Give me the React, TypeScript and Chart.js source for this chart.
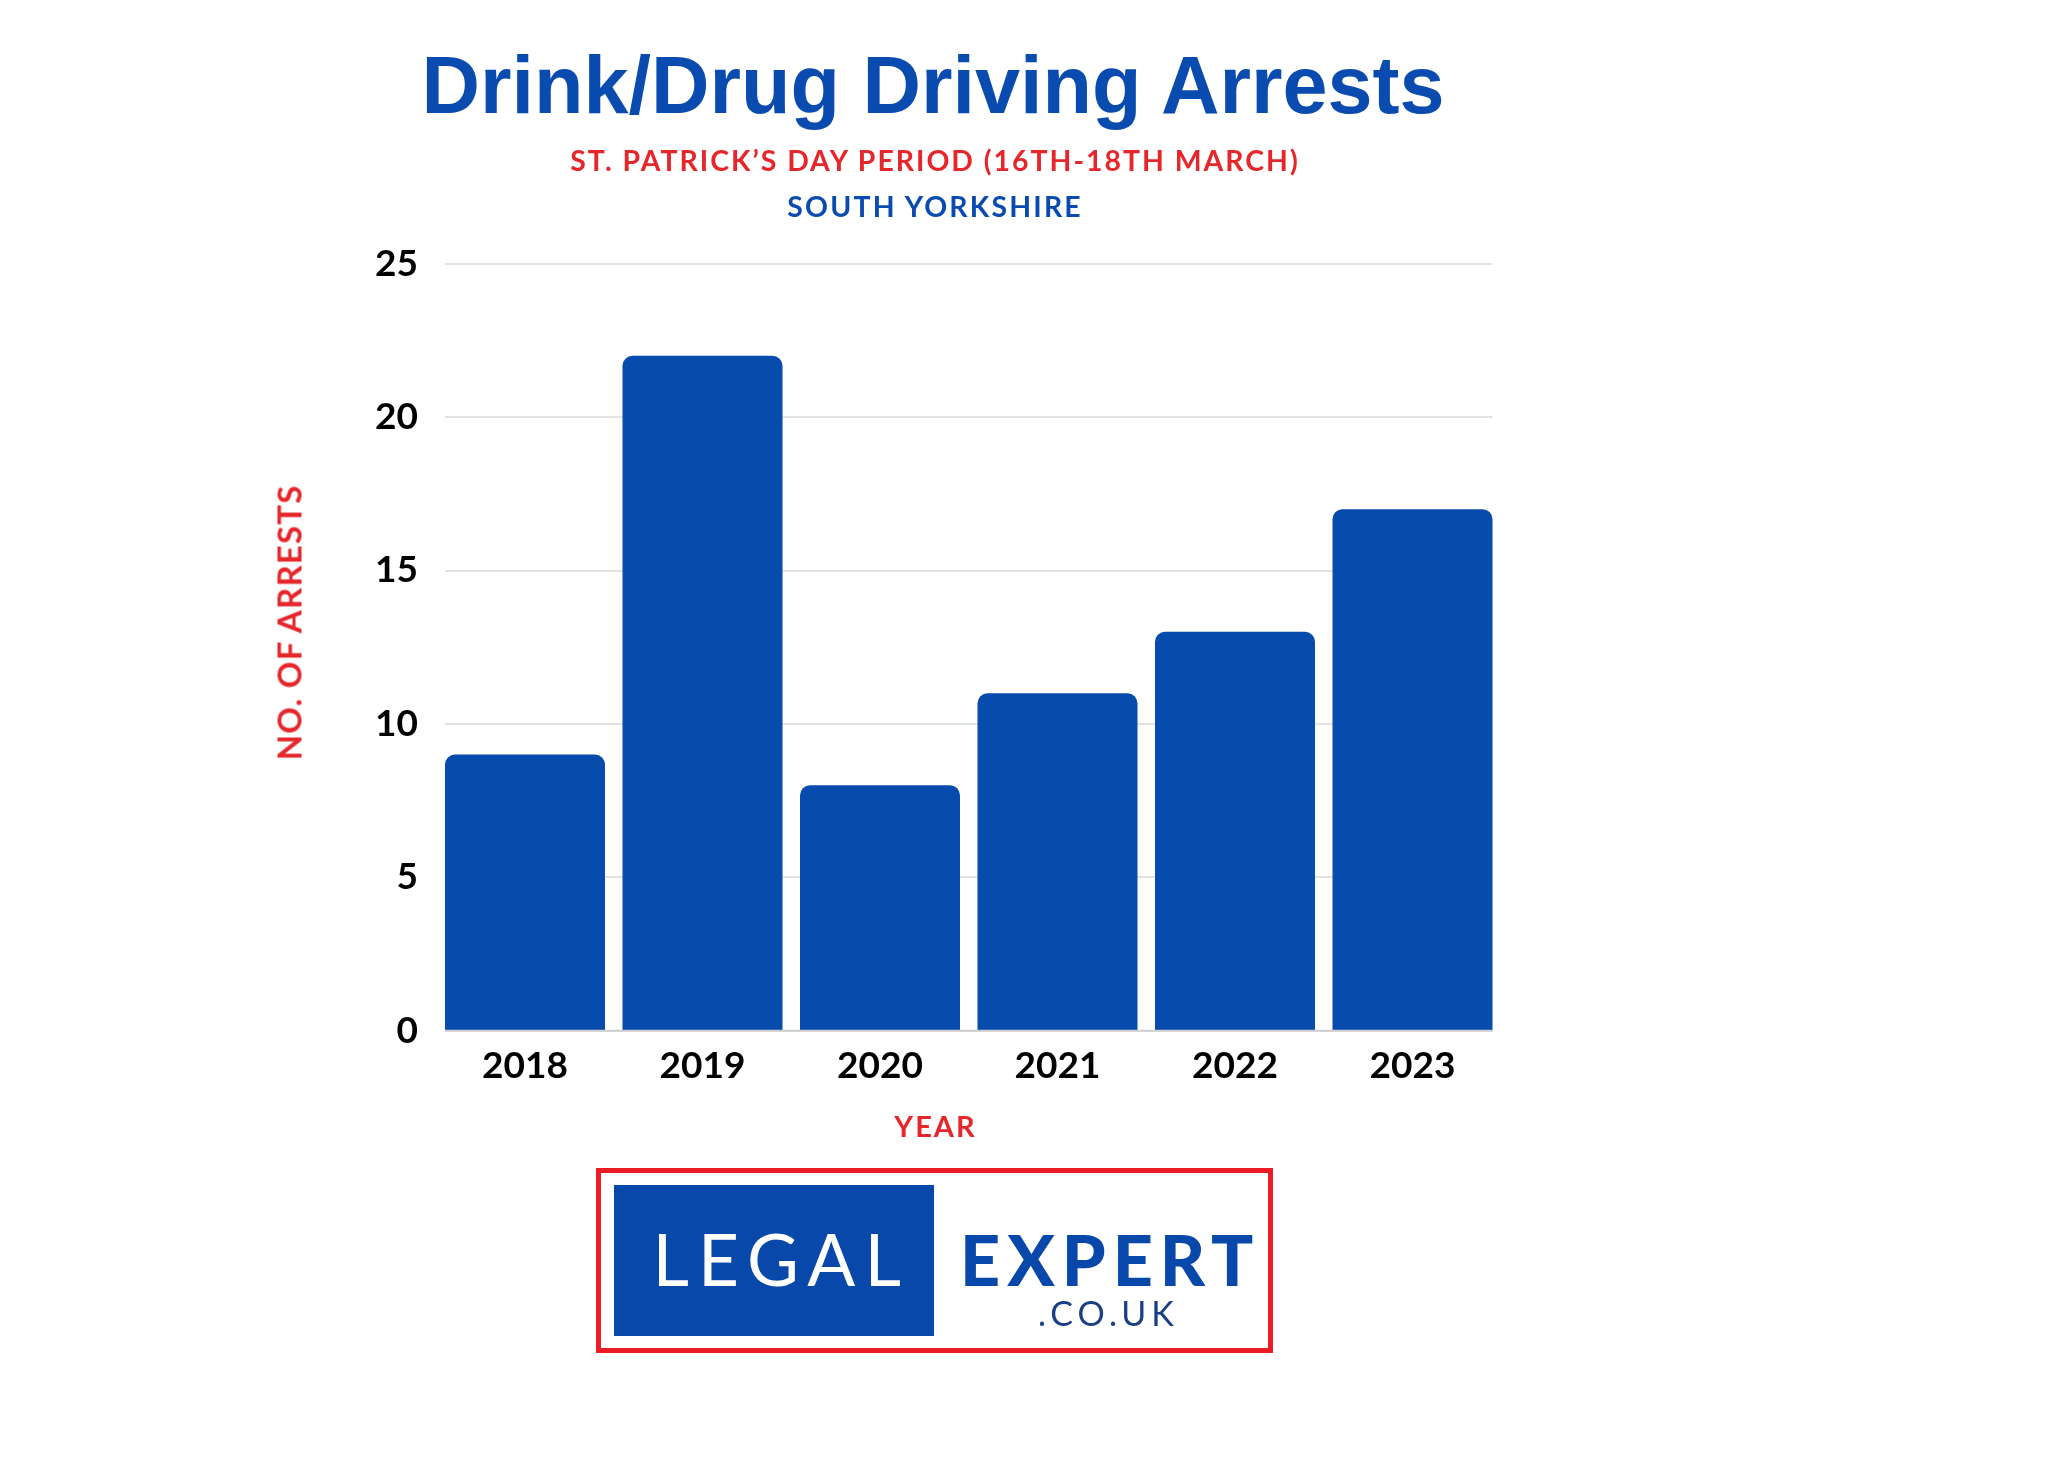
import React, { useEffect, useRef } from 'react';
import { Chart, registerables } from 'chart.js';

Chart.register(...registerables);

const years = ['2018', '2019', '2020', '2021', '2022', '2023'];
const arrests = [9, 22, 8, 11, 13, 17];
const yMin = 0;
const yMax = 25;
const yStep = 5;

const titleText = 'Drink/Drug Driving Arrests';
const subtitleText = 'ST. PATRICK\u2019S DAY PERIOD (16TH-18TH MARCH)';
const regionText = 'SOUTH YORKSHIRE';
const xTitleText = 'YEAR';
const yTitleText = 'NO. OF ARRESTS';

const BLUE = '#074BAC';
const RED = '#E5262A';
const W = 2048;
const H = 1457;

const barGrid = {
  id: 'barGrid',
  beforeDatasetsDraw(chart: any) {
    const meta = chart.getDatasetMeta(0);
    if (!meta.data.length) return;
    const first = meta.data[0];
    const last = meta.data[meta.data.length - 1];
    const x0 = first.x - first.width / 2;
    const x1 = last.x + last.width / 2;
    const ys = chart.scales.y;
    const ctx = chart.ctx;
    ctx.save();
    ctx.strokeStyle = '#e2e2e2';
    ctx.lineWidth = 2;
    ys.ticks.forEach((t: any) => {
      const y = Math.round(ys.getPixelForValue(t.value));
      ctx.beginPath();
      ctx.moveTo(x0, y);
      ctx.lineTo(x1, y);
      ctx.stroke();
    });
    ctx.restore();
  },
  afterDatasetsDraw(chart: any) {
    const meta = chart.getDatasetMeta(0);
    if (!meta.data.length) return;
    const first = meta.data[0];
    const last = meta.data[meta.data.length - 1];
    const x0 = first.x - first.width / 2;
    const x1 = last.x + last.width / 2;
    const ys = chart.scales.y;
    const ctx = chart.ctx;
    const y = ys.getPixelForValue(yMin);
    ctx.save();
    ctx.strokeStyle = '#cfcfcf';
    ctx.lineWidth = 2;
    ctx.beginPath();
    ctx.moveTo(x0, y);
    ctx.lineTo(x1, y);
    ctx.stroke();
    ctx.restore();
  },
};

function Text(props: {
  text: string;
  cx: number;
  top: number;
  size: number;
  family: string;
  weight: number | string;
  color: string;
  spacing?: number;
}) {
  const sp = props.spacing || 0;
  return (
    <div
      style={{
        position: 'absolute',
        left: props.cx - 700,
        width: 1400,
        top: props.top,
        textAlign: 'center',
        fontFamily: props.family,
        fontWeight: props.weight as any,
        fontSize: props.size,
        lineHeight: `${props.size}px`,
        color: props.color,
        letterSpacing: sp,
        paddingLeft: sp,
        boxSizing: 'border-box',
        whiteSpace: 'nowrap',
        pointerEvents: 'none',
      }}
    >
      {props.text}
    </div>
  );
}

export default function App() {
  const canvasRef = useRef<HTMLCanvasElement | null>(null);

  useEffect(() => {
    if (!canvasRef.current) return;
    const tickFont = { family: 'Lato', weight: 'bold' as const, size: 37 };
    const chart = new Chart(canvasRef.current, {
      type: 'bar',
      data: {
        labels: years,
        datasets: [
          {
            data: arrests,
            backgroundColor: BLUE,
            borderRadius: 10,
            borderSkipped: 'start',
            barPercentage: 0.9014,
            categoryPercentage: 1,
          },
        ],
      },
      options: {
        responsive: false,
        animation: false,
        devicePixelRatio: 1,
        layout: {
          padding: { left: 336.25, right: 546.75, top: 263.7, bottom: 346.3 },
        },
        plugins: {
          legend: { display: false },
          tooltip: { enabled: false },
          title: { display: false },
        },
        scales: {
          x: {
            grid: { display: false, drawTicks: false },
            border: { display: false },
            ticks: { font: tickFont, color: '#000', padding: 13.5, maxRotation: 0 },
            afterFit: (s: any) => {
              s.height = 80;
            },
          },
          y: {
            min: yMin,
            max: yMax,
            grid: { display: false, drawTicks: false },
            border: { display: false },
            ticks: { stepSize: yStep, font: tickFont, color: '#000', padding: 18.25 },
            afterFit: (s: any) => {
              s.width = 100;
            },
          },
        },
      },
      plugins: [barGrid],
    });
    return () => chart.destroy();
  }, []);

  return (
    <div
      style={{
        position: 'absolute',
        left: 0,
        top: 0,
        width: W,
        height: H,
        background: '#fff',
        overflow: 'hidden',
      }}
    >
      <canvas
        ref={canvasRef}
        width={W}
        height={H}
        style={{ position: 'absolute', left: 0, top: 0, width: W, height: H, display: 'block' }}
      />
      <Text text={titleText} cx={933} top={44.7} size={81} family={'"Liberation Sans", Arial, sans-serif'} weight={700} color={'#0A4BB0'} />
      <Text text={subtitleText} cx={934} top={145.8} size={28.4} family={'Lato, sans-serif'} weight={700} color={RED} spacing={2.0} />
      <Text text={regionText} cx={934} top={192.1} size={28.4} family={'Lato, sans-serif'} weight={700} color={'#0A4BB0'} spacing={2.2} />
      <Text text={xTitleText} cx={934.5} top={1111} size={29} family={'Lato, sans-serif'} weight={700} color={RED} spacing={2} />
      <div
        style={{
          position: 'absolute',
          left: 288.6,
          top: 623,
          transform: 'translate(-50%, -50%) rotate(-90deg)',
          fontFamily: 'Lato, sans-serif',
          fontWeight: 700,
          fontSize: 33,
          lineHeight: '33px',
          color: RED,
          letterSpacing: 1.2,
          paddingLeft: 1.2,
          whiteSpace: 'nowrap',
        }}
      >
        {yTitleText}
      </div>
      {/* logo */}
      <div
        style={{
          position: 'absolute',
          left: 596,
          top: 1168,
          width: 677,
          height: 185,
          border: '5px solid #EC1C24',
          boxSizing: 'border-box',
          background: '#fff',
        }}
      />
      <div
        style={{
          position: 'absolute',
          left: 614,
          top: 1185,
          width: 320,
          height: 151,
          background: '#0748AA',
        }}
      />
      <Text text={'LEGAL'} cx={776.7} top={1222.9} size={71} family={'Lato, sans-serif'} weight={400} color={'#fff'} spacing={9} />
      <Text text={'EXPERT'} cx={1106.7} top={1224} size={70} family={'Lato, sans-serif'} weight={900} color={'#0748AA'} spacing={7} />
      <Text text={'.CO.UK'} cx={1106} top={1295.9} size={34} family={'Lato, sans-serif'} weight={400} color={'#1a3f85'} spacing={5} />
    </div>
  );
}
